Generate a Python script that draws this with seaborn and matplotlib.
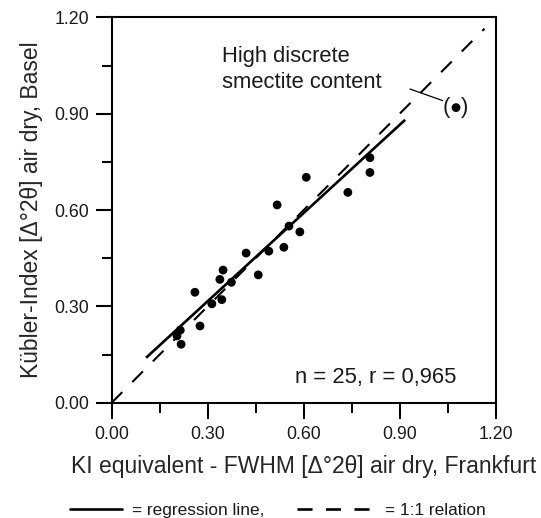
import matplotlib
matplotlib.use("Agg")
import matplotlib.pyplot as plt
from matplotlib.lines import Line2D
import seaborn as sns
import numpy as np
import pandas as pd

# ---- data ----
ki_frankfurt = [0.260, 0.204, 0.214, 0.217, 0.276, 0.313, 0.344, 0.338, 0.348, 0.374,
                0.420, 0.458, 0.491, 0.538, 0.554, 0.588, 0.517, 0.608, 0.738, 0.807, 0.807]
ki_basel = [0.344, 0.208, 0.226, 0.182, 0.239, 0.308, 0.321, 0.384, 0.413, 0.375,
            0.466, 0.398, 0.472, 0.484, 0.550, 0.532, 0.616, 0.702, 0.655, 0.763, 0.717]
outlier_x = [1.076]
outlier_y = [0.919]
reg_slope = 0.9154
reg_intercept = 0.0416
reg_x_range = [0.1075, 0.917]
one_to_one = [0.0, 1.165]
ticks = [0.0, 0.3, 0.6, 0.9, 1.2]
tick_labels = ["0.00", "0.30", "0.60", "0.90", "1.20"]
minor_ticks = [0.15, 0.45, 0.75, 1.05]
stats_text = "n = 25, r = 0,965"
note_lines = ["High discrete", "smectite content"]
xlabel = "KI equivalent - FWHM [\u0394\u00b02\u03b8] air dry, Frankfurt"
ylabel = "K\u00fcbler-Index [\u0394\u00b02\u03b8] air dry, Basel"

sns.set_style("ticks")
plt.rcParams["font.family"] = ["Liberation Sans", "DejaVu Sans"]
plt.rcParams["text.color"] = "#1a1a1a"

fig = plt.figure(figsize=(5.41, 5.18), dpi=100)
W, H = 541, 518
ax = fig.add_axes([111.7 / W, 1 - 402.7 / H, 384 / W, 385.3 / H])

df = pd.DataFrame({"x": ki_frankfurt, "y": ki_basel})
sns.scatterplot(data=df, x="x", y="y", ax=ax, color="black", s=40,
                edgecolor="none", zorder=4)
sns.scatterplot(x=outlier_x, y=outlier_y, ax=ax, color="black", s=40,
                edgecolor="none", zorder=4)

# regression line
rx = np.array(reg_x_range)
ax.plot(rx, reg_slope * rx + reg_intercept, color="black", lw=1.9,
        solid_capstyle="butt", zorder=3)
# 1:1 line
ax.plot(one_to_one, one_to_one, color="black", lw=1.5,
        linestyle=(0, (7.2, 6.8)), dash_capstyle="butt", zorder=3)

# leader line and parentheses for outlier
ax.plot([0.932, 1.034], [0.977, 0.941], color="black", lw=0.9, zorder=3)
ax.text(1.045, outlier_y[0], "(", fontsize=16, ha="center", va="center")
ax.text(1.102, outlier_y[0], ")", fontsize=16, ha="center", va="center")

ax.text(0.344, 1.062, note_lines[0], fontsize=15.8, ha="left", va="baseline")
ax.text(0.344, 0.979, note_lines[1], fontsize=15.8, ha="left", va="baseline")
ax.text(0.573, 0.060, stats_text, fontsize=15.8, ha="left", va="baseline")

ax.set_xlim(0, 1.2)
ax.set_ylim(0, 1.2)
ax.set_xticks(ticks)
ax.set_xticklabels(tick_labels)
ax.set_yticks(ticks)
ax.set_yticklabels(tick_labels)
ax.set_xticks(minor_ticks, minor=True)
ax.set_yticks(minor_ticks, minor=True)
ax.tick_params(which="major", direction="out", length=11.5, width=1.5,
               labelsize=12.8, pad=5, colors="black", labelcolor="#1a1a1a")
ax.tick_params(which="minor", direction="out", length=7, width=1.5, colors="black")
for sp in ax.spines.values():
    sp.set_visible(True)
    sp.set_linewidth(1.5)
    sp.set_color("black")

ax.set_xlabel(xlabel, fontsize=16.5)
ax.set_ylabel(ylabel, fontsize=16.5)
ax.xaxis.set_label_coords(0.5, -0.136)
ax.yaxis.set_label_coords(-0.18, 0.5)

# legend at the bottom
ly = 1 - 509 / H
fig.add_artist(Line2D([70 / W, 121.7 / W], [ly, ly], color="black", lw=1.9,
                      transform=fig.transFigure))
fig.text(131.7 / W, ly, "= regression line,", fontsize=12.4, ha="left",
         va="center_baseline")
fig.add_artist(Line2D([296.7 / W, 370 / W], [ly, ly], color="black", lw=1.9,
                      linestyle=(0, (5.7, 5.1)), dash_capstyle="butt",
                      transform=fig.transFigure))
fig.text(385 / W, ly, "= 1:1 relation", fontsize=12.4, ha="left",
         va="center_baseline")

fig.savefig("out.png", dpi=100)
